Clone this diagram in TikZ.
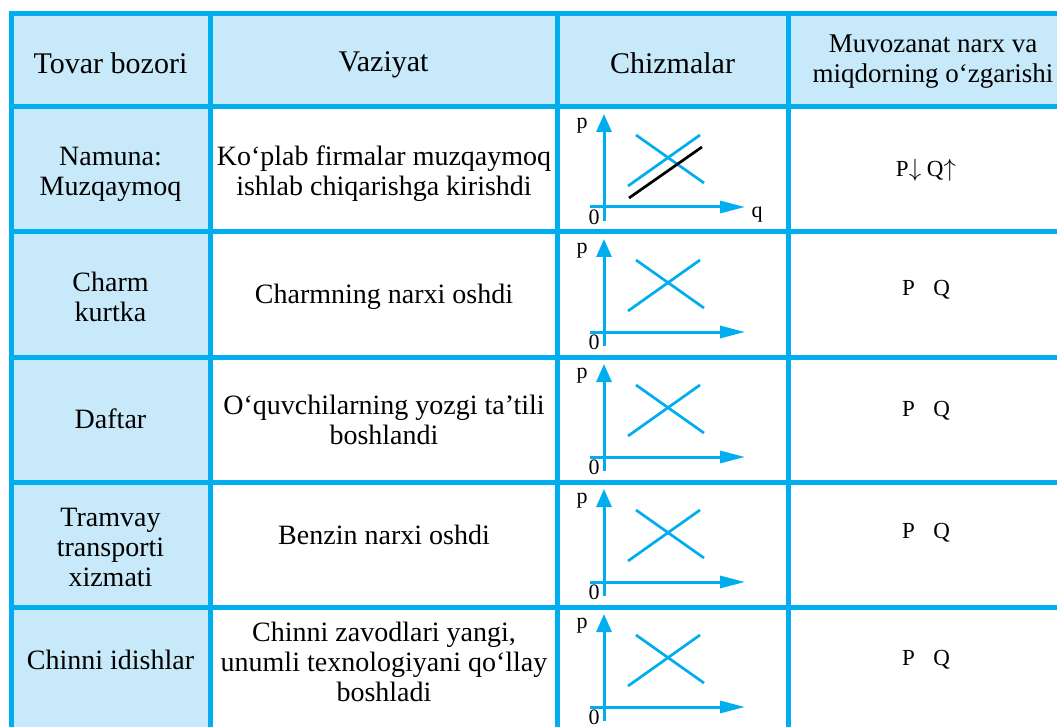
\documentclass[tikz,border=0pt]{standalone}
\usepackage{fontspec}
\setmainfont{Liberation Serif}
\usetikzlibrary{arrows.meta}
\definecolor{lineblue}{HTML}{00AEEF}
\definecolor{fillblue}{HTML}{C7E9F9}
\newcommand\chartat[2]{%
  \begin{scope}[shift={(0,#1)}]
    \draw[axisline,-{Triangle[length=18pt,width=15pt]}] (604,114) -- (604,7);
    \draw[axisline,-{Triangle[length=25pt,width=12pt]}] (590,100) -- (745,100);
    \draw[curveline] (636,28) -- (704,76);
    \draw[curveline] (628,79) -- (700,28);
    \node[graphlbl] (p#2) at (582,19) {p};
    \node[graphlbl] (z#2) at (594,110) {0};
  \end{scope}}
\begin{document}
\begin{tikzpicture}[x=1pt,y=-1pt,
  gridline/.style={draw=lineblue,line width=5pt},
  axisline/.style={draw=lineblue,line width=3pt},
  curveline/.style={draw=lineblue,line width=2.7pt},
  shiftline/.style={draw=black,line width=2.7pt},
  hdr/.style={font=\fontsize{30}{32}\selectfont,align=center,inner sep=0pt},
  body/.style={font=\fontsize{28}{30}\selectfont,align=center,inner sep=0pt},
  hdrsmall/.style={font=\fontsize{27}{30}\selectfont,align=center,inner sep=0pt},
  pq/.style={font=\fontsize{23}{25}\selectfont,inner sep=0pt},
  graphlbl/.style={font=\fontsize{22}{24}\selectfont,inner sep=0pt}]
\useasboundingbox (0,0) rectangle (1057,727);
\fill[white] (0,0) rectangle (1057,727);
% fills
\fill[fillblue] (11,14) rectangle (1057,107);
\fill[fillblue] (11,107) rectangle (210,727);
% header
\node[hdr] (h1) at (110.5,63) {Tovar bozori};
\node[hdr] (h2) at (383.5,65) {Vaziyat};
\node[hdr] (h3) at (672.5,63) {Chizmalar};
\begin{scope}
  \clip (790,16) rectangle (1057,90);
  \node[hdrsmall] (h4) at (933,62) {Muvozanat narx va\\miqdorning o‘zgarishi};
\end{scope}
% row 1
\node[body] (a1) at (110.5,174) {Namuna:\\Muzqaymoq};
\node[body] (b1) at (384,174) {Ko‘plab firmalar muzqaymoq\\ishlab chiqarishga kirishdi};
\chartat{107}{1}
\draw[shiftline] (629,198) -- (702,147);
\node[graphlbl] (q1) at (757,215) {q};
\node[pq] (c1) at (926,170) {P$\downarrow$ Q$\uparrow$};
% row 2
\node[body] (a2) at (110.5,297) {Charm\\kurtka};
\node[body] (b2) at (384,297) {Charmning narxi oshdi};
\chartat{232}{2}
\node[pq] (c2) at (926,290) {P\hspace{0.8em}Q};
% row 3
\node[body] (a3) at (110.5,419) {Daftar};
\node[body] (b3) at (384,420) {O‘quvchilarning yozgi ta’tili\\boshlandi};
\chartat{357}{3}
\node[pq] (c3) at (926,411) {P\hspace{0.8em}Q};
% row 4
\node[body] (a4) at (110.5,547) {Tramvay\\transporti\\xizmati};
\node[body] (b4) at (384,535) {Benzin narxi oshdi};
\chartat{482}{4}
\node[pq] (c4) at (926,533) {P\hspace{0.8em}Q};
% row 5
\node[body] (a5) at (110.5,660) {Chinni idishlar};
\node[body] (b5) at (384,662) {Chinni zavodlari yangi,\\unumli texnologiyani qo‘llay\\boshladi};
\chartat{607}{5}
\node[pq] (c5) at (926,660) {P\hspace{0.8em}Q};
% grid
\foreach \yy in {14,107,232,357,482,607}
  \draw[gridline] (8.5,\yy) -- (1057,\yy);
\foreach \xx in {11,210,557,788}
  \draw[gridline] (\xx,11.5) -- (\xx,727);
\end{tikzpicture}
\end{document}
